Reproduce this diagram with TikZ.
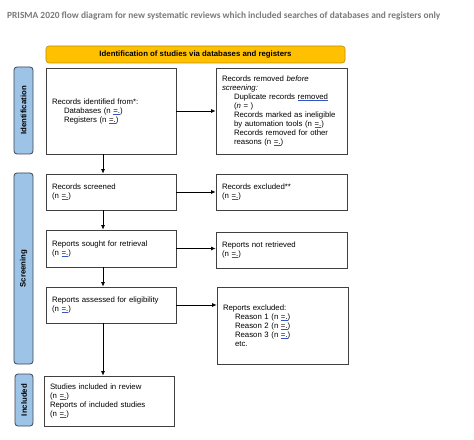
\documentclass[tikz,border=0pt]{standalone}
\usepackage{fontspec}
\setmainfont{Liberation Sans}
\newfontfamily\titlefont{Carlito}
\usetikzlibrary{arrows.meta}
\definecolor{titlegray}{HTML}{7A7A7A}
\definecolor{boxgray}{HTML}{404040}
\definecolor{baryellow}{HTML}{FFC000}
\definecolor{barborder}{HTML}{BF9000}
\definecolor{labblue}{HTML}{9DC3E6}
\definecolor{labborder}{HTML}{3A4656}
\definecolor{wavyblue}{HTML}{3355CC}
\newsavebox\wvbox
\newcommand\wv[1]{\sbox\wvbox{#1}\rlap{\textcolor{wavyblue}{\rule[-1.4bp]{\wd\wvbox}{0.5bp}}}\usebox\wvbox}
\newcommand\ind{\hspace*{12bp}}
\begin{document}
\begin{tikzpicture}[x=1bp,y=-1bp,
  box/.style={draw=boxgray, line width=0.8bp, fill=white, align=left,
    inner xsep=6bp, inner ysep=2bp, font=\fontsize{7.8bp}{9bp}\selectfont},
  sidelab/.style={draw=labborder, line width=0.8bp, fill=labblue, rounded corners=3bp,
    rotate=90, inner sep=0pt, font=\fontsize{7.8bp}{9bp}\selectfont\bfseries},
  bar/.style={draw=barborder, line width=0.6bp, fill=baryellow, rounded corners=3bp,
    inner sep=0pt, font=\fontsize{7.8bp}{9bp}\selectfont\bfseries},
  arr/.style={draw=black, line width=0.7bp, -{Latex[length=4.5bp,width=4bp]}}]
\useasboundingbox (0,0) rectangle (474,440);
\fill[white] (0,0) rectangle (474,440);
\node[anchor=west, inner sep=0pt, text=titlegray, font=\titlefont\bfseries\fontsize{9.4bp}{11bp}\selectfont] (title) at (7,16)
  {PRISMA 2020 flow diagram for new systematic reviews which included searches of databases and registers only};
\node[bar, minimum width=299bp, minimum height=17bp] (bar) at (195.5,54.5)
  {Identification of studies via databases and registers};
% side labels
\node[sidelab, minimum width=87bp, minimum height=19bp] (idlab) at (23.5,110.5) {Identification};
\node[sidelab, minimum width=191bp, minimum height=19bp] (scrlab) at (23.5,268.5) {Screening};
\node[sidelab, minimum width=52bp, minimum height=18bp] (inclab) at (24,400) {Included};
% boxes
\node[box, text width=118bp, minimum height=86bp] (identified) at (111,111)
  {Records identified from*:\\\ind Databases (n \wv{=.})\\\ind Registers (n \wv{=.})};
\node[box, text width=119bp, minimum height=86bp] (removed) at (281.5,111)
  {Records removed \textit{before}\\\textit{screening:}\\\ind Duplicate records \wv{removed}\\\ind (\textit{n} = )\\\ind Records marked as ineligible\\\ind by automation tools (n \wv{=.})\\\ind Records removed for other\\\ind reasons (n \wv{=.})};
\node[box, text width=118bp, minimum height=36bp] (screened) at (111,192)
  {Records screened\\(n \wv{=.})};
\node[box, text width=119bp, minimum height=36bp] (excluded) at (281.5,192)
  {Records excluded**\\(n \wv{=.})};
\node[box, text width=118bp, minimum height=37bp] (sought) at (111,248.5)
  {Reports sought for retrieval\\(n \wv{=.})};
\node[box, text width=119bp, minimum height=36bp] (notretr) at (281.5,250)
  {Reports not retrieved\\(n \wv{=.})};
\node[box, text width=118bp, minimum height=36bp] (assessed) at (111,305)
  {Reports assessed for eligibility\\(n \wv{=.})};
\node[box, text width=119bp, minimum height=77bp] (repexcl) at (282.5,325.5)
  {Reports excluded:\\\ind Reason 1 (n \wv{=.})\\\ind Reason 2 (n \wv{=.})\\\ind Reason 3 (n \wv{=.})\\\ind etc.};
\node[box, text width=118bp, minimum height=50bp] (included) at (109,401)
  {Studies included in review\\(n \wv{=.})\\Reports of included studies\\(n \wv{=.})};
% arrows
\coordinate (vx) at (103,0);
\draw[arr] (identified.east) -- (identified.east -| removed.west);
\draw[arr] (screened.east) -- (screened.east -| excluded.west);
\draw[arr] (sought.east) -- (sought.east -| notretr.west);
\draw[arr] (assessed.east) -- (assessed.east -| repexcl.west);
\draw[arr] (identified.south -| vx) -- (screened.north -| vx);
\draw[arr] (screened.south -| vx) -- (sought.north -| vx);
\draw[arr] (sought.south -| vx) -- (assessed.north -| vx);
\draw[arr] (assessed.south -| vx) -- (included.north -| vx);
\end{tikzpicture}
\end{document}
